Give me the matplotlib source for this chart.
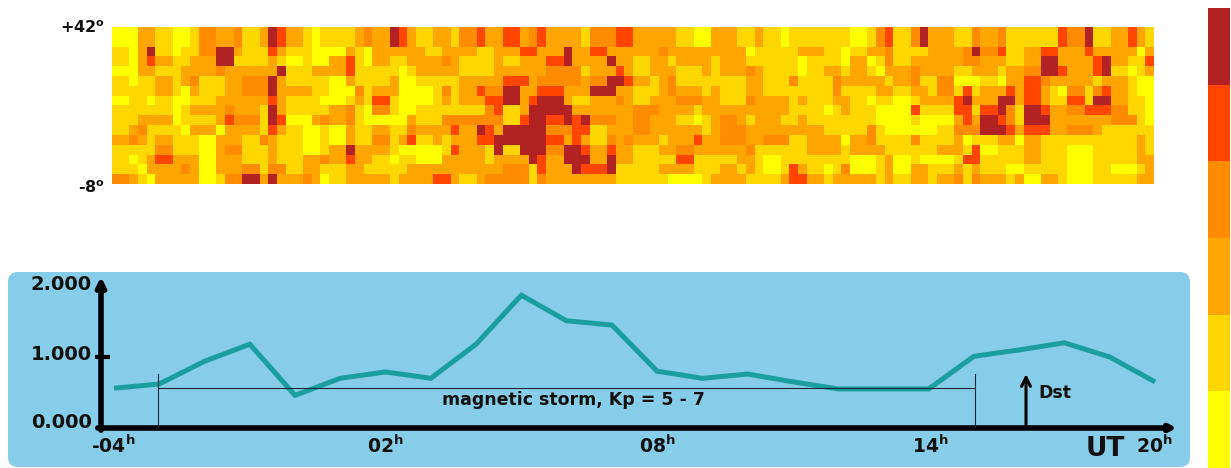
import matplotlib
matplotlib.use("Agg")
import matplotlib.pyplot as plt
import numpy as np
from matplotlib.colors import ListedColormap, BoundaryNorm
from matplotlib.patches import FancyBboxPatch
from matplotlib.transforms import blended_transform_factory

W, H = 1231, 468

level_colors = ["#FFFF00", "#FFD700", "#FFA500", "#FF8C00", "#FF4500", "#B22222"]

cells_a = [
 "000 22 11 00 1 33 22 3 11 2 5 4 22 1 0 1111 2 3 22 5 4 2 11 22 1",
 "000 22 11 00 1 33 22 3 11 2 5 4 22 1 0 1111 2 3 22 5 4 2 11 22 1",
 "11 0 2 5 1 1 0 11 33 55 2 111 4 2 111 0000 2 1 0 2222 22 11 22",
 "11 0 2 4 22 11 222 55 1111 2 1 00 1 00 22 4 1 0 22 11 2222 3 2",
 "000 22 111 2222 3 22222 2 5 111 2222 4 1 1 111 0 1 22222",
 "11 0 11 22 1 2 3 111 22 333 5 2 111 11 00 2 1 111 2 00 1111 1",
 "11111 22 1 0 2 111 22 333 5 2222 11 000 3 1 22 2 0000 1 3 1",
 "00 11 0 11 00 111 22 2222 4 2 1111 000 1 2 1 44 1 0000 1 2 1",
 "1111111 0 1 2222 3 222 1 5 2 11111 22 3 1 0 33 1 00 1111 1",
 "111 2222 0 1111 2 4 333 1 5 4 000 2 3 22 3 1 00000 2 111 33",
 "11 2 3 111 1 0 222 0 2 222 1 4 2 11 00 1 00 2 11 22 11 3 2222 4",
 "22 3 2 1 22 11 1 00 22 2 11 3 2 111 00 1 00 2 11 33 1 2 4 11 2 1 2",
 "11111 33 111 00 2 33 111 2 111 00 1 22 5 2222 1 00000 1 4",
 "11 0 1 2 44 222 00 222 11 1 2 111 22 3 22 4 22 11 0 11 000 2 2",
 "111 0 2222 3 2 00 222 33 1 33 11 22 111 22 111 11222222",
 "33 2 1 0 22222 00 1 33 55 2 5 222 3 2 0 11 22222 1 2222 44 2",
]
cells_b = [
 "33 4 22 44 2 3 4 2222 1 333 44 22222 11 00 222 11 2 11 0 11",
 "33 4 22 44 2 3 4 2222 1 333 44 22222 11 00 222 11 2 11 0 11",
 "22 11 2 22 44 222 5 22 44 222 222 3 22222 2222 0 11111 2",
 "1111 2 11 22 2 44 5 22 22 5 22 11 22 1 2222 1 222 111111 0",
 "111 1 2222 2 2 3333 1 222 4 2 11 222 111 2 1 222 3 2 1111 0",
 "22222 444 2 33333 2 33 55 4 22 1 2 3 1111 1 111 22 111 3 1",
 "22 4 33 55 22 444 222 555 22 111 2 3 222 1 2 111 22 11111",
 "22 2 44 55 2 4 555 2 11 22 2 3 2 11 2 22 333 2 2 111 3 2222 1 2",
 "111 3 4 11 2 55555 22 22 222 33 3 2222 1 22222 22222 11",
 "33333 11 4 55 44 5 4 5 333 22 33 222 11 0 1 2 33 2 1 222 11 2",
 "22 5 4 2 55555 333 44 11 222 33 222222 1 2 333 2222222",
 "22 44 555555 44 2 4 2 11 3 2 3 222 1 222 4 22 333 22 333 11",
 "222 1 5 11 555 33 55 4 22 4 22 111 22 33 22222 2 3 111111",
 "222 1 2222 5 4 22 555 22 5 22 11111 44 111 11 22 1 00 1 1 1",
 "22222 333 1 4 222 5 444 5 11111 2222 111 22 1 2 1 00 1 4 2",
 "11 2 33333 1 3 2222222 2 111111 0000 1 2222 1111 2 44",
]
cells_c = [
 "11111 00 1 3 4 11 3 5 222 11 3 22 3 111111 4 33 5 1 1 22 4 2 1",
 "11111 00 1 3 4 11 3 5 222 11 3 22 3 111111 4 33 5 1 1 22 4 2 1",
 "22 11 0 11 22 3 1111 2222 3 5 33 4 11 22 44 222 4 22222 0 2",
 "1111 0 22 0 1 3 11 222222 33 222 11 22 55 2222 4 5 22 11 4",
 "11 22 1 22 1 0 222 3 2222 11 222 1 22 33 55 4 222 4 5 11 0 1 2",
 "111 3 22222 1 22 3 1 1 33 000 11 0 2 2 44 3 22222 1 2 22 1 00",
 "111 3 1111 22 11 22 1 33 1 4 1 222 4 2 44 2 1 0 33 1 3 4 22 1 00",
 "111 22 11 0 11 00 1 2222 4 5 222 55 2 44 2 11 44 1 55 22 11 0",
 "11 0 1 2 111 0000 4 1 111 44 1 44 5 3 1 55 4 22 33 444 33 11 0",
 "11111111 0000 1 0000 2 4 2 55 4 3 1 555 2222 2 22 333 1 0",
 "22 11111 3 1 000 000 11 333 555 4 2 444 22 333 2 11111 1",
 "2222 0 22 3 11 11 3 11 11 2 0 1 11 22 0 22 11111111111 2 1",
 "222 2 1 2222 111111 222 1 4 00 111 22 111 000 11111 2 1",
 "11111 000 1 2 00 1 0000 1 44 11111 22 111 000 11111 2 2",
 "11 0 1 3 000 1 2 00 22 111 2 1 2 111 00 11111 000 11 000 1 2",
 "22 1 22222 1 2 11 22 1 22 3 1 3 222 1 2 00 22 1 000 11111 2 2",
]

dst_hours = list(range(-4, 20))
dst_values = [0.56, 0.62, 0.94, 1.18, 0.46, 0.70, 0.79, 0.70, 1.18, 1.87, 1.51, 1.45,
              0.80, 0.70, 0.76, 0.65, 0.55, 0.55, 0.55, 1.01, 1.10, 1.20, 1.00, 0.65]
x_labels = ["-04", "02", "08", "14", "20"]
y_labels = ["2.000", "1.000", "0.000"]

storm_start, storm_end, storm_level, storm_cap = -3.03, 15.02, 0.56, 0.76
dst_arrow_hour = 16.15

grid = np.array([[int(ch) for ch in (a + b + c).replace(" ", "")]
                 for a, b, c in zip(cells_a, cells_b, cells_c)])

plt.rcParams["font.family"] = ["DejaVu Sans"]
plt.rcParams["mathtext.fontset"] = "dejavusans"
fig = plt.figure(figsize=(W / 100, H / 100), dpi=100, facecolor="white")


def px_axes(x0, y0, x1, y1, **kw):
    return fig.add_axes([x0 / W, 1 - y1 / H, (x1 - x0) / W, (y1 - y0) / H], **kw)


cmap = ListedColormap(level_colors)
norm = BoundaryNorm(np.arange(-0.5, 6.5), cmap.N)
TXT = "#111111"

# heat map
ax_map = px_axes(112, 27, 1154, 184)
ax_map.imshow(grid, cmap=cmap, norm=norm, aspect="auto", interpolation="nearest")
ax_map.axis("off")
fig.text(105 / W, 1 - 28 / H, "+42$^{\\mathbf{o}}$", ha="right", va="center",
         fontsize=11.5, fontweight="bold", color=TXT)
fig.text(105 / W, 1 - 188 / H, "-8$^{\\mathbf{o}}$", ha="right", va="center",
         fontsize=11.5, fontweight="bold", color=TXT)

# colour scale
ax_bar = px_axes(1208, 8, 1230, 468)
ax_bar.imshow(np.arange(5, -1, -1).reshape(-1, 1), cmap=cmap, norm=norm,
              aspect="auto", interpolation="nearest")
ax_bar.axis("off")

# blue panel
ax_bg = px_axes(0, 0, W, H)
ax_bg.set_xlim(0, W)
ax_bg.set_ylim(H, 0)
ax_bg.axis("off")
ax_bg.set_zorder(-1)
ax_bg.add_patch(FancyBboxPatch((14, 278), 1170, 183,
                               boxstyle="round,pad=6,rounding_size=10",
                               facecolor="#87CCE8", edgecolor="none"))

# line panel: hours -4..19 span x px 114..1155, value 0 at y px 428
px_per_hour = (1155 - 114) / 23
ax = px_axes(101, 286, 1177, 428)
ax.patch.set_alpha(0)
ax.set_xlim(-4 + (101 - 114) / px_per_hour, -4 + (1177 - 114) / px_per_hour)
ax.set_ylim(0, 2)
for s in ax.spines.values():
    s.set_visible(False)
ax.set_xticks([])
ax.set_yticks([])

ax.plot(dst_hours, dst_values, color="#1B9EA0", lw=3.6, solid_joinstyle="miter",
        solid_capstyle="butt", zorder=3)

# storm bracket
ax.plot([storm_start, storm_end], [storm_level, storm_level], color="#1a2a3a", lw=0.8, zorder=4)
ax.plot([storm_start, storm_start], [0, storm_cap], color="#1a2a3a", lw=0.8, zorder=4)
ax.plot([storm_end, storm_end], [0, storm_cap], color="#1a2a3a", lw=0.8, zorder=4)
ax.text(6.16, 0.39, "magnetic storm, Kp = 5 - 7", ha="center", va="center",
        fontsize=12.5, fontweight="bold", color=TXT)

# axes drawn as arrows
ax.annotate("", xy=(0.0, 2.13), xytext=(0.0, -0.03), xycoords=("axes fraction", "data"),
            arrowprops=dict(arrowstyle="-|>", lw=4, color="black", shrinkA=0, shrinkB=0,
                            mutation_scale=13), annotation_clip=False)
ax.annotate("", xy=(1.0, 0.0), xytext=(-0.003, 0.0), xycoords=("axes fraction", "data"),
            arrowprops=dict(arrowstyle="-|>", lw=4, color="black", shrinkA=0, shrinkB=0,
                            mutation_scale=9), annotation_clip=False)
tick_tf = blended_transform_factory(fig.transFigure, ax.transData)
ax.plot([95 / W, 110 / W], [1.0, 1.0], transform=tick_tf, color="black",
        lw=3, solid_capstyle="butt", clip_on=False)

# Dst arrow
ax.annotate("", xy=(dst_arrow_hour, storm_cap), xytext=(dst_arrow_hour, 0.0),
            arrowprops=dict(arrowstyle="->", lw=2.2, color="black", shrinkA=0, shrinkB=0,
                            mutation_scale=16))
ax.text(dst_arrow_hour + 0.27, 0.49, "Dst", ha="left", va="center",
        fontsize=12.5, fontweight="bold", color=TXT)

# value labels
for val, ypx in zip(y_labels, [285, 354, 422]):
    fig.text(92 / W, 1 - ypx / H, val, ha="right", va="center", fontsize=14,
             fontweight="bold", color=TXT)

# hour labels
for lab, xpx in zip(x_labels, [113, 385, 657, 930, 1154]):
    fig.text(xpx / W, 1 - 446 / H, lab + "$^{\\mathbf{h}}$", ha="center", va="center",
             fontsize=13.5, fontweight="bold", color=TXT)
fig.text(1105 / W, 1 - 449 / H, "UT", ha="center", va="center", fontsize=19,
         fontweight="bold", color=TXT)

fig.savefig("out.png", dpi=100, facecolor="white")
